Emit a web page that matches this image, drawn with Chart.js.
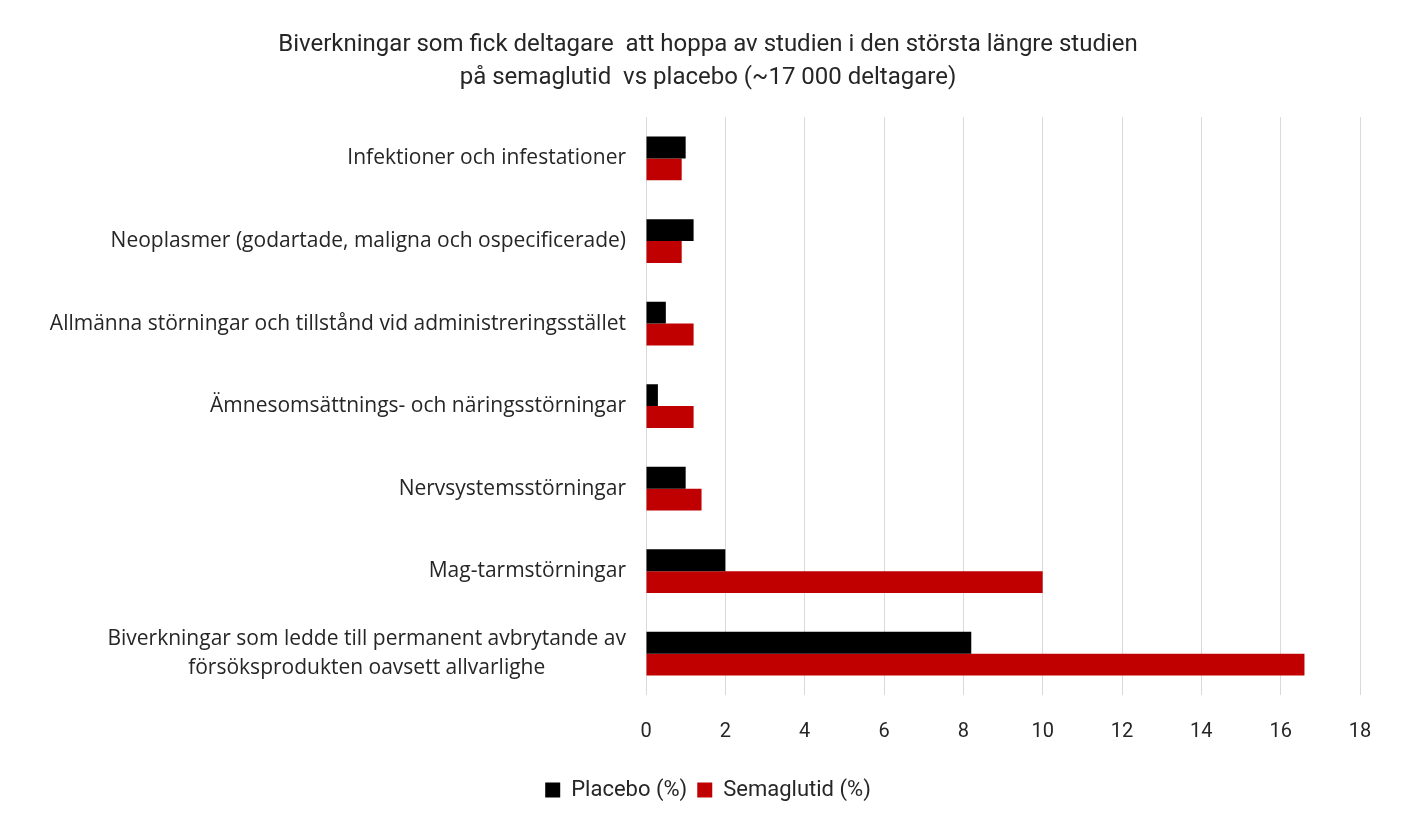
<!DOCTYPE html>
<html>
<head>
<meta charset="utf-8">
<script src="https://cdn.jsdelivr.net/npm/chart.js@4/dist/chart.umd.min.js"></script>
<style>
  html, body { margin: 0; padding: 0; background: #ffffff; }
  #wrap { width: 1420px; height: 826px; }
</style>
</head>
<body>
<div id="wrap"><canvas id="c" width="1420" height="826"></canvas></div>
<script>
const titleLines = [
  "Biverkningar som fick deltagare  att hoppa av studien i den största längre studien",
  "på semaglutid  vs placebo (~17 000 deltagare)"
];
const categories = [
  "Infektioner och infestationer",
  "Neoplasmer (godartade, maligna och ospecificerade)",
  "Allmänna störningar och tillstånd vid administreringsstället",
  "Ämnesomsättnings- och näringsstörningar",
  "Nervsystemsstörningar",
  "Mag-tarmstörningar",
  ["Biverkningar som ledde till permanent avbrytande av", "försöksprodukten oavsett allvarlighe"]
];
const seriesNames = ["Placebo (%)", "Semaglutid (%)"];
const placeboValues = [1.0, 1.2, 0.5, 0.3, 1.0, 2.0, 8.2];
const semaglutidValues = [0.9, 0.9, 1.2, 1.2, 1.4, 10.0, 16.6];
const xTicks = [0, 2, 4, 6, 8, 10, 12, 14, 16, 18];

const narrow = "'Roboto', sans-serif";
const regular = "'Open Sans', 'Noto Sans', sans-serif";
const labelSize = 21;
const labelLineHeight = 29;

// Category labels: block right-aligned to the axis, lines centred within the block
const categoryLabels = {
  id: 'categoryLabels',
  afterDraw(chart) {
    const ys = chart.scales.y;
    const ctx = chart.ctx;
    ctx.save();
    ctx.font = labelSize + "px " + regular;
    ctx.fillStyle = '#262626';
    ctx.textBaseline = 'middle';
    ctx.textAlign = 'center';
    const right = chart.chartArea.left - 20;
    ys.getLabels().forEach((lab, i) => {
      const lines = Array.isArray(lab) ? lab : [lab];
      const w = Math.max(...lines.map(l => ctx.measureText(l).width));
      const cx = right - w / 2;
      const y0 = ys.getPixelForValue(i) - (lines.length - 1) * labelLineHeight / 2;
      lines.forEach((l, k) => ctx.fillText(l, cx, y0 + k * labelLineHeight));
    });
    ctx.restore();
  }
};

new Chart(document.getElementById('c'), {
  type: 'bar',
  data: {
    labels: categories,
    datasets: [
      { label: seriesNames[0], data: placeboValues, backgroundColor: '#000000', borderWidth: 0 },
      { label: seriesNames[1], data: semaglutidValues, backgroundColor: '#C00000', borderWidth: 0 }
    ]
  },
  plugins: [categoryLabels],
  options: {
    indexAxis: 'y',
    responsive: false,
    animation: false,
    devicePixelRatio: 1,
    layout: { padding: { top: 18, right: 60, bottom: 15, left: 56 } },
    datasets: { bar: { categoryPercentage: 0.53, barPercentage: 1.0 } },
    plugins: {
      title: {
        display: true,
        text: titleLines,
        color: '#262626',
        font: { family: narrow, size: 24, weight: 'normal', lineHeight: 1.4 },
        padding: { top: 10, bottom: 22 }
      },
      legend: {
        position: 'bottom',
        labels: {
          color: '#262626',
          font: { family: narrow, size: 22 },
          boxWidth: 15, boxHeight: 15,
          padding: 10
        }
      },
      tooltip: { enabled: false }
    },
    scales: {
      x: {
        min: 0, max: 18,
        afterBuildTicks: (scale) => { scale.ticks = xTicks.map(v => ({ value: v })); },
        grid: { color: '#D9D9D9', lineWidth: 1, drawTicks: false },
        border: { display: false },
        ticks: { color: '#262626', font: { family: narrow, size: 20, lineHeight: 0.2 }, padding: 35 }
      },
      y: {
        afterFit: (scale) => { scale.width = 590; },
        grid: { display: false, drawTicks: false },
        border: { display: false },
        ticks: { display: false }
      }
    }
  }
});
</script>
</body>
</html>
